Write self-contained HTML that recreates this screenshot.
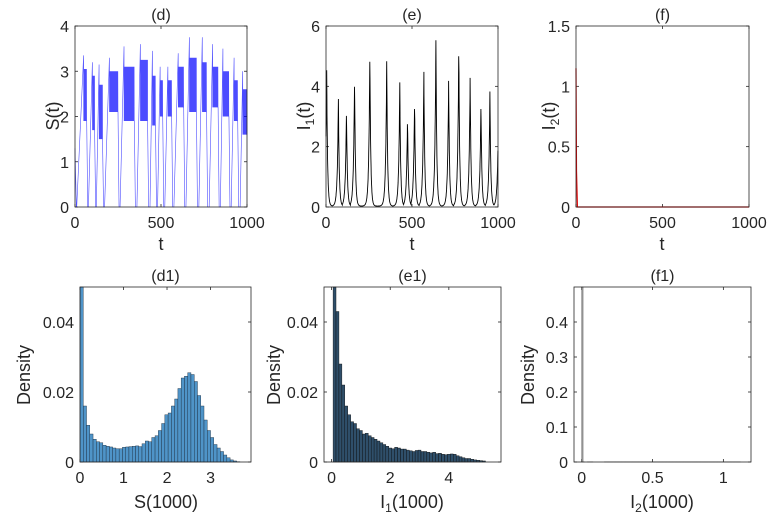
<!DOCTYPE html>
<html><head><meta charset="utf-8"><style>
html,body{margin:0;padding:0;background:#fff;}
svg{display:block;font-family:"Liberation Sans",sans-serif;}
</style></head><body>
<svg id="fig" width="778" height="523" viewBox="0 0 778 523" xmlns="http://www.w3.org/2000/svg"></svg>
<script>
// ---- data ----
// S(t) cycles: [riseStart, peakT, peakVal, bandHi, bandLo, fallT]
const sCycles=[[10,50,3.35,3.05,1.9,68],[78,101,3.2,2.9,1.7,114],[124,140,3.15,2.7,1.5,160],[172,200,3.3,3.0,2.1,250],[262,285,3.55,3.1,1.9,345],[360,380,3.6,3.25,1.9,422],[436,450,3.45,2.9,1.8,468],[480,495,3.1,2.8,2.0,510],[522,540,3.1,2.8,2.0,562],[575,600,3.4,3.1,2.2,632],[645,665,3.75,3.3,2.1,706],[720,740,3.75,3.2,2.1,765],[780,800,3.6,3.1,2.2,832],[845,860,3.5,3.0,2.0,895],[908,925,3.3,2.8,1.9,946],[960,975,3.0,2.6,1.6,1000]];
const sStart=[0,1.3,8,0];
// I1(t) peaks
const iPeakT=[4,72,119,166,255,353,429,474,515,569,639,713,772,838,901,953,1000];
const iPeakV=[4.5,3.55,3.25,4.3,5.2,4.8,4.1,2.95,3.5,4.45,5.5,4.15,5.4,4.25,3.5,3.8,2.0];
// I2(t)
const i2T=[0,3,8,1000];
const i2V=[1.15,0.3,0,0];
// histograms
const d1Start=0, d1Width=0.075;
const d1Vals=[0.1,0.016,0.0105,0.008,0.0065,0.0058,0.0055,0.0048,0.0045,0.0043,0.004,0.0038,0.0038,0.0042,0.0043,0.0044,0.0045,0.0046,0.0044,0.0052,0.006,0.0058,0.007,0.0075,0.009,0.011,0.0135,0.014,0.016,0.018,0.021,0.024,0.0245,0.0255,0.025,0.023,0.019,0.016,0.012,0.009,0.007,0.005,0.004,0.003,0.002,0.0012,0.0006,0.0003,0.0001];
const e1Start=0.05, e1Width=0.1;
const e1Vals=[0.06,0.043,0.028,0.022,0.016,0.0135,0.0115,0.011,0.0095,0.009,0.008,0.0082,0.0075,0.007,0.0065,0.006,0.0055,0.005,0.0045,0.004,0.0038,0.0042,0.004,0.0037,0.0037,0.0034,0.0032,0.003,0.0033,0.0034,0.003,0.003,0.0028,0.0026,0.0028,0.0024,0.0025,0.0022,0.0021,0.0022,0.0023,0.0022,0.0018,0.0015,0.0012,0.001,0.001,0.0008,0.0006,0.0005,0.0004,0.0003];
const f1Start=0, f1Width=0.01;
const f1Vals=[0.9,0.0005,0,0,0.0005,0.0005,0.0005,0.0005,0,0,0,0,0,0,0,0,0.0005,0.0005,0.0005,0.0005,0.0005,0.0005,0.0005,0.0005,0.0005,0.0005,0.0005,0.0005,0.0005,0.0005,0.0005,0.0005,0.0005,0.0005,0.0005,0.0005,0.0005,0.0005,0.0005,0.0005,0.0005,0.0005,0.0005,0.0005,0.0005,0.0005,0.0005,0.0005,0.0005,0.0005,0.0005,0.0005,0.0005,0.0005,0.0005,0.0005,0.0005,0.0005,0.0005,0.0005,0.0005,0.0005,0.0005,0.0005,0.0005,0.0005,0.0005,0.0005,0.0005,0.0005,0.0005,0.0005,0.0005,0.0005,0.0005,0.0005,0.0005,0.0005,0.0005,0.0005,0.0005,0.0005,0.0005,0.0005,0.0005,0.0005,0.0005,0.0005,0.0005,0.0005,0.0005,0.0005,0.0005,0.0005,0.0005,0.0005,0.0005,0.0005,0.0005,0.0005,0.0005,0.0005,0.0005,0.0005,0.0005,0.0005,0.0005,0.0005,0.0005,0.0005,0.0005,0.0005];
const tTicks=[0,500,1000];

// ---- drawing ----
const NS="http://www.w3.org/2000/svg";
const fig=document.getElementById('fig');
function mk(tag,at,parent){const e=document.createElementNS(NS,tag);for(const k in at)e.setAttribute(k,at[k]);(parent||fig).appendChild(e);return e;}
function txt(x,y,s,size,anchor,parent){const t=mk('text',{x:x,y:y,'font-size':size,'text-anchor':anchor||'middle',fill:'#262626'},parent);t.textContent=s;return t;}

function axes(name,L,R,T,B,xr,yr,xt,xtl,yt,ytl,title,g){
  const sx=v=>L+(v-xr[0])/(xr[1]-xr[0])*(R-L);
  const sy=v=>B-(v-yr[0])/(yr[1]-yr[0])*(B-T);
  xt.forEach((v,i)=>{const x=sx(v);
    mk('line',{x1:x,x2:x,y1:B,y2:B-3,stroke:'#262626','stroke-width':0.8},g);
    mk('line',{x1:x,x2:x,y1:T,y2:T+3,stroke:'#262626','stroke-width':0.8},g);
    const t=txt(x,B+21,xtl[i],16,'middle',g);
    
    });
  yt.forEach((v,i)=>{const y=sy(v);
    mk('line',{x1:L,x2:L+3,y1:y,y2:y,stroke:'#262626','stroke-width':0.8},g);
    mk('line',{x1:R,x2:R-3,y1:y,y2:y,stroke:'#262626','stroke-width':0.8},g);
    const t=txt(L-6,y+6,ytl[i],16,'end',g);
    
    });
  const tt=txt((L+R)/2,T-6,title,16,'middle',g);
  
  
  return {sx,sy,frame:()=>{const f=mk('rect',{x:L,y:T,width:R-L,height:B-T,fill:'none',stroke:'#262626','stroke-width':0.8},g);
    
    }};
}
function labelX(g,x,y,html,name){const t=mk('text',{x:x,y:y,'font-size':18,'text-anchor':'middle',fill:'#262626'},g);t.innerHTML=html;
  }
function labelY(g,x,y,html,name){const t=mk('text',{x:0,y:0,'font-size':18,'text-anchor':'middle',fill:'#262626',transform:`translate(${x},${y}) rotate(-90)`},g);t.innerHTML=html;
  }

// panel d
(function(){
  const g=mk('g',{});
  const a=axes('panel-d',75,247,26,207,[0,1000],[0,4],tTicks,['0','500','1000'],[0,1,2,3,4],['0','1','2','3','4'],'(d)',g);
  let pts=[[sStart[0],sStart[1]],[sStart[2],sStart[3]]];
  sCycles.forEach(c=>{
    const [t0,tp,pv,hi,lo,tf]=c;
    pts.push([t0,0],[tp,pv]);
    let k=0;for(let t=tp+0.7;t<tf;t+=0.7){pts.push([t,k%2?hi:lo]);k++;}
    pts.push([tf,lo],[Math.min(tf+6,1000),tf>=1000?lo:0]);
  });
  const p=mk('polyline',{points:pts.map(q=>a.sx(q[0]).toFixed(2)+','+a.sy(q[1]).toFixed(1)).join(' '),fill:'none',stroke:'#0000ff','stroke-width':0.6,'stroke-opacity':0.7},g);
  
  a.frame();
  labelX(g,161,250,'t','x-axis-title-d');
  labelY(g,59,116,'S(t)','y-axis-title-d');
})();
// panel e
(function(){
  const g=mk('g',{});
  const a=axes('panel-e',326,498,26,207,[0,1000],[0,6],tTicks,['0','500','1000'],[0,2,4,6],['0','2','4','6'],'(e)',g);
  let pts=[];
  for(let i=0;i<iPeakT.length;i++){
    const tp=iPeakT[i],pv=iPeakV[i];
    const prev=i?iPeakT[i-1]:-60, next=i<iPeakT.length-1?iPeakT[i+1]:1060;
    const a0=Math.max(0,(prev+tp)/2), a1=Math.min(1000,(tp+next)/2);
    for(let t=a0;t<=tp;t+=1){pts.push([t,pv*Math.exp(-(tp-t)/6)+0.03]);}
    for(let t=tp+1;t<a1;t+=1){pts.push([t,pv*Math.exp(-(t-tp)/5)+0.03]);}
  }
  const p=mk('polyline',{points:pts.map(q=>a.sx(q[0]).toFixed(1)+','+a.sy(Math.min(q[1],6)).toFixed(1)).join(' '),fill:'none',stroke:'#000','stroke-width':0.9},g);
  
  a.frame();
  labelX(g,412,250,'t','x-axis-title-e');
  labelY(g,310,116,'I<tspan font-size="12" dy="4">1</tspan><tspan dy="-4">(t)</tspan>','y-axis-title-e');
})();
// panel f
(function(){
  const g=mk('g',{});
  const a=axes('panel-f',576,749,26,207,[0,1000],[0,1.5],tTicks,['0','500','1000'],[0,0.5,1,1.5],['0','0.5','1','1.5'],'(f)',g);
  const p=mk('polyline',{points:i2T.map((t,i)=>a.sx(t).toFixed(1)+','+a.sy(i2V[i]).toFixed(1)).join(' '),fill:'none',stroke:'#e00000','stroke-width':1.2},g);
  
  a.frame();
  labelX(g,662,250,'t','x-axis-title-f');
  labelY(g,555,116,'I<tspan font-size="12" dy="4">2</tspan><tspan dy="-4">(t)</tspan>','y-axis-title-f');
})();
function hist(name,g,a,start,w,vals,fill,edge,ymax){
  vals.forEach((v,i)=>{
    const x0=a.sx(start+i*w),x1=a.sx(start+(i+1)*w),y=a.sy(Math.min(v,ymax));
    const r=mk('rect',{x:x0,y:y,width:Math.max(x1-x0,0.3),height:a.sy(0)-y,fill:fill,stroke:edge,'stroke-width':0.4},g);
    
    
  });
}
// d1
(function(){
  const g=mk('g',{});
  const a=axes('panel-d1',80,251,287,462,[0,3.93],[0,0.05],[0,1,2,3],['0','1','2','3'],[0,0.02,0.04],['0','0.02','0.04'],'(d1)',g);
  hist('d1-hist',g,a,d1Start,d1Width,d1Vals,'#4f94c8','#1a2a3a',0.05);
  a.frame();
  labelX(g,166,508,'S(1000)','x-axis-title-d1');
  labelY(g,30,375,'Density','y-axis-title-d1');
})();
// e1
(function(){
  const g=mk('g',{});
  const a=axes('panel-e1',324,501,287,462,[-0.26,5.78],[0,0.05],[0,2,4],['0','2','4'],[0,0.02,0.04],['0','0.02','0.04'],'(e1)',g);
  hist('e1-hist',g,a,e1Start,e1Width,e1Vals,'#2f4f6a','#0a0a0a',0.05);
  a.frame();
  labelX(g,412,508,'I<tspan font-size="12" dy="4">1</tspan><tspan dy="-4">(1000)</tspan>','x-axis-title-e1');
  labelY(g,280,375,'Density','y-axis-title-e1');
})();
// f1
(function(){
  const g=mk('g',{});
  const a=axes('panel-f1',574,751,287,462,[-0.054,1.195],[0,0.5],[0,0.5,1],['0','0.5','1'],[0,0.1,0.2,0.3,0.4],['0','0.1','0.2','0.3','0.4'],'(f1)',g);
  hist('f1-hist',g,a,f1Start,f1Width,f1Vals,'#9a9a9a','#555',0.5);
  a.frame();
  labelX(g,662,508,'I<tspan font-size="12" dy="4">2</tspan><tspan dy="-4">(1000)</tspan>','x-axis-title-f1');
  labelY(g,534,375,'Density','y-axis-title-f1');
})();
</script>
</body></html>
